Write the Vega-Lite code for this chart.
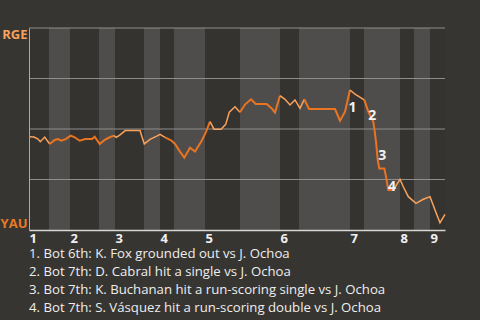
{
  "$schema": "https://vega.github.io/schema/vega-lite/v6.json",
  "width": 416,
  "height": 202,
  "autosize": {"type": "none"},
  "padding": {"left": 29, "top": 28, "right": 35, "bottom": 90},
  "background": "#373531",
  "config": {"view": {"stroke": null}, "font": "Open Sans"},
  "title": {
    "text": [
      "1. Bot 6th: K. Fox grounded out vs J. Ochoa",
      "2. Bot 7th: D. Cabral hit a single vs J. Ochoa",
      "3. Bot 7th: K. Buchanan hit a run-scoring single vs J. Ochoa",
      "4. Bot 7th: S. Vásquez hit a run-scoring double vs J. Ochoa"
    ],
    "orient": "bottom",
    "anchor": "start",
    "frame": "group",
    "font": "Open Sans",
    "fontSize": 13.2,
    "fontWeight": "normal",
    "color": "#eeeeee",
    "lineHeight": 18,
    "baseline": "top",
    "offset": 3
  },
  "resolve": {"scale": {"color": "independent", "strokeWidth": "independent"}},
  "datasets": {
    "bands": [
      {"half": "top", "t0": 0, "t1": 20},
      {"half": "bot", "t0": 20, "t1": 41},
      {"half": "top", "t0": 41, "t1": 70},
      {"half": "bot", "t0": 70, "t1": 86},
      {"half": "top", "t0": 86, "t1": 115},
      {"half": "bot", "t0": 115, "t1": 131},
      {"half": "top", "t0": 131, "t1": 145},
      {"half": "bot", "t0": 145, "t1": 176},
      {"half": "top", "t0": 176, "t1": 211},
      {"half": "bot", "t0": 211, "t1": 251},
      {"half": "top", "t0": 251, "t1": 270},
      {"half": "bot", "t0": 270, "t1": 321},
      {"half": "top", "t0": 321, "t1": 335},
      {"half": "bot", "t0": 335, "t1": 371},
      {"half": "top", "t0": 371, "t1": 385},
      {"half": "bot", "t0": 385, "t1": 401},
      {"half": "top", "t0": 401, "t1": 416}
    ],
    "grid": [{"v": 0.25}, {"v": 0.5}, {"v": 0.75}, {"v": 1}],
    "wp": [
      {"seg": 1, "team": "RGE", "t": 0, "v": 0.462},
      {"seg": 1, "team": "RGE", "t": 5, "v": 0.46},
      {"seg": 1, "team": "RGE", "t": 9, "v": 0.45},
      {"seg": 1, "team": "RGE", "t": 11.3, "v": 0.437},
      {"seg": 1, "team": "RGE", "t": 15.7, "v": 0.46},
      {"seg": 1, "team": "RGE", "t": 20.7, "v": 0.426},
      {"seg": 2, "team": "YAU", "t": 20.7, "v": 0.426},
      {"seg": 2, "team": "YAU", "t": 25.7, "v": 0.446},
      {"seg": 2, "team": "YAU", "t": 29, "v": 0.45},
      {"seg": 2, "team": "YAU", "t": 32.3, "v": 0.442},
      {"seg": 2, "team": "YAU", "t": 36.7, "v": 0.45},
      {"seg": 2, "team": "YAU", "t": 41.7, "v": 0.467},
      {"seg": 2, "team": "YAU", "t": 45.7, "v": 0.459},
      {"seg": 2, "team": "YAU", "t": 50.7, "v": 0.442},
      {"seg": 2, "team": "YAU", "t": 56.3, "v": 0.45},
      {"seg": 2, "team": "YAU", "t": 63, "v": 0.45},
      {"seg": 2, "team": "YAU", "t": 65.7, "v": 0.462},
      {"seg": 2, "team": "YAU", "t": 70.7, "v": 0.426},
      {"seg": 2, "team": "YAU", "t": 75.7, "v": 0.446},
      {"seg": 2, "team": "YAU", "t": 80.7, "v": 0.459},
      {"seg": 2, "team": "YAU", "t": 85, "v": 0.467},
      {"seg": 3, "team": "RGE", "t": 85, "v": 0.467},
      {"seg": 3, "team": "RGE", "t": 87.3, "v": 0.459},
      {"seg": 3, "team": "RGE", "t": 90.7, "v": 0.47},
      {"seg": 3, "team": "RGE", "t": 96.3, "v": 0.492},
      {"seg": 3, "team": "RGE", "t": 111, "v": 0.492},
      {"seg": 3, "team": "RGE", "t": 115.3, "v": 0.426},
      {"seg": 3, "team": "RGE", "t": 121, "v": 0.449},
      {"seg": 3, "team": "RGE", "t": 127.7, "v": 0.465},
      {"seg": 3, "team": "RGE", "t": 131, "v": 0.474},
      {"seg": 3, "team": "RGE", "t": 136, "v": 0.459},
      {"seg": 4, "team": "YAU", "t": 136, "v": 0.459},
      {"seg": 4, "team": "YAU", "t": 142.7, "v": 0.442},
      {"seg": 4, "team": "YAU", "t": 146, "v": 0.426},
      {"seg": 4, "team": "YAU", "t": 151, "v": 0.388},
      {"seg": 4, "team": "YAU", "t": 155.3, "v": 0.358},
      {"seg": 4, "team": "YAU", "t": 161, "v": 0.407},
      {"seg": 4, "team": "YAU", "t": 166, "v": 0.388},
      {"seg": 4, "team": "YAU", "t": 172.7, "v": 0.442},
      {"seg": 4, "team": "YAU", "t": 176.7, "v": 0.482},
      {"seg": 4, "team": "YAU", "t": 181, "v": 0.536},
      {"seg": 5, "team": "RGE", "t": 181, "v": 0.536},
      {"seg": 5, "team": "RGE", "t": 185, "v": 0.499},
      {"seg": 5, "team": "RGE", "t": 192, "v": 0.499},
      {"seg": 5, "team": "RGE", "t": 196.7, "v": 0.523},
      {"seg": 5, "team": "RGE", "t": 200.3, "v": 0.583},
      {"seg": 5, "team": "RGE", "t": 206, "v": 0.61},
      {"seg": 5, "team": "RGE", "t": 211, "v": 0.583},
      {"seg": 6, "team": "YAU", "t": 211, "v": 0.583},
      {"seg": 6, "team": "YAU", "t": 216, "v": 0.621},
      {"seg": 6, "team": "YAU", "t": 222, "v": 0.647},
      {"seg": 6, "team": "YAU", "t": 226.7, "v": 0.624},
      {"seg": 6, "team": "YAU", "t": 237.7, "v": 0.624},
      {"seg": 6, "team": "YAU", "t": 242.7, "v": 0.602},
      {"seg": 6, "team": "YAU", "t": 246, "v": 0.581},
      {"seg": 6, "team": "YAU", "t": 251, "v": 0.665},
      {"seg": 7, "team": "RGE", "t": 251, "v": 0.665},
      {"seg": 7, "team": "RGE", "t": 256, "v": 0.647},
      {"seg": 7, "team": "RGE", "t": 261, "v": 0.619},
      {"seg": 7, "team": "RGE", "t": 266, "v": 0.644},
      {"seg": 7, "team": "RGE", "t": 271, "v": 0.602},
      {"seg": 7, "team": "RGE", "t": 275.3, "v": 0.647},
      {"seg": 8, "team": "YAU", "t": 275.3, "v": 0.647},
      {"seg": 8, "team": "YAU", "t": 280, "v": 0.599},
      {"seg": 8, "team": "YAU", "t": 306, "v": 0.599},
      {"seg": 8, "team": "YAU", "t": 311, "v": 0.541},
      {"seg": 8, "team": "YAU", "t": 316, "v": 0.586},
      {"seg": 8, "team": "YAU", "t": 318.3, "v": 0.635},
      {"seg": 8, "team": "YAU", "t": 321, "v": 0.693},
      {"seg": 9, "team": "RGE", "t": 321, "v": 0.693},
      {"seg": 9, "team": "RGE", "t": 326, "v": 0.673},
      {"seg": 9, "team": "RGE", "t": 335.3, "v": 0.644},
      {"seg": 10, "team": "YAU", "t": 335.3, "v": 0.644},
      {"seg": 10, "team": "YAU", "t": 339.3, "v": 0.586},
      {"seg": 10, "team": "YAU", "t": 344.3, "v": 0.536},
      {"seg": 10, "team": "YAU", "t": 345.3, "v": 0.503},
      {"seg": 10, "team": "YAU", "t": 347, "v": 0.437},
      {"seg": 10, "team": "YAU", "t": 348.7, "v": 0.347},
      {"seg": 10, "team": "YAU", "t": 350.3, "v": 0.305},
      {"seg": 10, "team": "YAU", "t": 355.3, "v": 0.305},
      {"seg": 10, "team": "YAU", "t": 357, "v": 0.264},
      {"seg": 10, "team": "YAU", "t": 359.3, "v": 0.198},
      {"seg": 10, "team": "YAU", "t": 364.3, "v": 0.198},
      {"seg": 11, "team": "RGE", "t": 364.3, "v": 0.198},
      {"seg": 11, "team": "RGE", "t": 371, "v": 0.251},
      {"seg": 11, "team": "RGE", "t": 374.3, "v": 0.214},
      {"seg": 11, "team": "RGE", "t": 379.3, "v": 0.165},
      {"seg": 11, "team": "RGE", "t": 387, "v": 0.132},
      {"seg": 11, "team": "RGE", "t": 394.3, "v": 0.152},
      {"seg": 11, "team": "RGE", "t": 401, "v": 0.165},
      {"seg": 11, "team": "RGE", "t": 406, "v": 0.099},
      {"seg": 11, "team": "RGE", "t": 411, "v": 0.036},
      {"seg": 11, "team": "RGE", "t": 416, "v": 0.077}
    ],
    "notes": [
      {"label": "1", "t": 323.5, "v": 0.605},
      {"label": "2", "t": 343.3, "v": 0.566},
      {"label": "3", "t": 353.3, "v": 0.366},
      {"label": "4", "t": 363, "v": 0.214}
    ]
  },
  "layer": [
    {
      "data": {"name": "bands"},
      "mark": {"type": "rect"},
      "encoding": {
        "x": {
          "field": "t0",
          "type": "quantitative",
          "scale": {"domain": [0, 416], "nice": false, "zero": false},
          "title": null,
          "axis": {
            "values": [0, 41, 86, 131, 176, 251, 321, 371, 401],
            "labelExpr": "indexof([0, 41, 86, 131, 176, 251, 321, 371, 401], datum.value) + 1",
            "labelAlign": "left",
            "labelColor": "#f0f0f0",
            "labelFont": "Open Sans",
            "labelFontWeight": "bold",
            "labelFontSize": 13,
            "labelPadding": 2,
            "labelFlush": false,
            "labelOverlap": false,
            "labelBound": false,
            "ticks": false,
            "grid": false,
            "domainColor": "#d6d6d6",
            "domainWidth": 1.5,
            "zindex": 1,
            "title": null
          }
        },
        "x2": {"field": "t1"},
        "color": {
          "field": "half",
          "type": "nominal",
          "scale": {"domain": ["top", "bot"], "range": ["#353330", "#4e4d4b"]},
          "legend": null
        }
      }
    },
    {
      "data": {"name": "grid"},
      "mark": {"type": "rule", "color": "#8e8e8e", "strokeWidth": 1},
      "encoding": {
        "y": {
          "field": "v",
          "type": "quantitative",
          "scale": {"domain": [0, 1], "nice": false},
          "title": null,
          "axis": {
            "values": [0, 1],
            "labelExpr": "datum.value == 1 ? 'RGE' : 'YAU'",
            "labelBaseline": {"condition": {"test": "datum.value == 1", "value": "top"}, "value": "bottom"},
            "labelColor": {"condition": {"test": "datum.value == 1", "value": "#f7a25c"}, "value": "#e97a26"},
            "labelFont": "Open Sans",
            "labelFontWeight": "bold",
            "labelFontSize": 13,
            "labelPadding": 2,
            "labelOverlap": false,
            "labelBound": false,
            "ticks": false,
            "grid": false,
            "domainColor": "#aaaaaa",
            "domainWidth": 1,
            "zindex": 1,
            "title": null
          }
        }
      }
    },
    {
      "data": {"name": "wp"},
      "mark": {"type": "line", "interpolate": "linear"},
      "encoding": {
        "x": {"field": "t", "type": "quantitative", "title": null},
        "y": {"field": "v", "type": "quantitative", "title": null},
        "detail": {"field": "seg", "type": "nominal"},
        "color": {
          "field": "team",
          "type": "nominal",
          "scale": {"domain": ["RGE", "YAU"], "range": ["#f9a25c", "#eb7420"]},
          "legend": null
        },
        "strokeWidth": {
          "field": "team",
          "type": "nominal",
          "scale": {"domain": ["RGE", "YAU"], "range": [1.5, 2]},
          "legend": null
        }
      }
    },
    {
      "data": {"name": "notes"},
      "mark": {"type": "text", "font": "Open Sans", "fontWeight": "bold", "fontSize": 14, "color": "#f2f2f2", "align": "center", "baseline": "middle"},
      "encoding": {
        "x": {"field": "t", "type": "quantitative", "title": null},
        "y": {"field": "v", "type": "quantitative", "title": null},
        "text": {"field": "label", "type": "nominal"}
      }
    }
  ]
}
